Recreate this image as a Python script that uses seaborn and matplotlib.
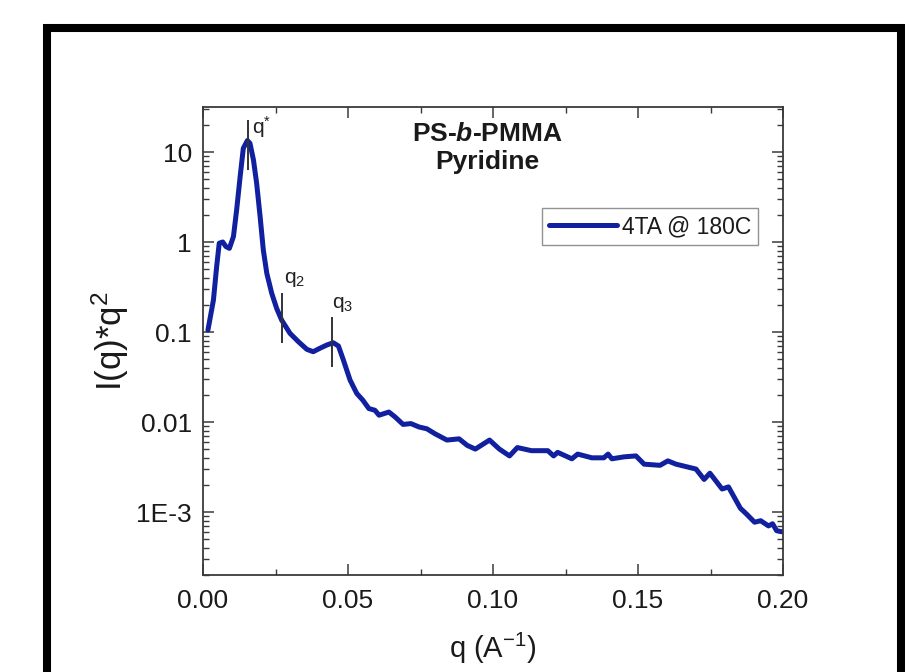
import matplotlib
matplotlib.use("Agg")
import matplotlib.pyplot as plt
import seaborn as sns
import numpy as np
import pandas as pd
from matplotlib.patches import Rectangle
from matplotlib.ticker import FixedLocator, FixedFormatter, LogLocator, MultipleLocator, NullFormatter

# ---------------- data ----------------
q_values = [0.0017, 0.0036, 0.0047, 0.0056, 0.0068, 0.0079, 0.0091, 0.0105, 0.0116, 0.0128,
            0.0139, 0.0153, 0.0162, 0.0174, 0.0185, 0.0197, 0.0208, 0.0220, 0.0237, 0.0254,
            0.0271, 0.0300, 0.0329, 0.0358, 0.0380, 0.0403, 0.0427, 0.0449, 0.0467, 0.0484,
            0.0507, 0.0530, 0.0551, 0.0572, 0.0593, 0.0607, 0.0641, 0.0662, 0.0690, 0.0717,
            0.0745, 0.0772, 0.0800, 0.0841, 0.0883, 0.0911, 0.0939, 0.0988, 0.1022, 0.1057,
            0.1084, 0.1133, 0.1189, 0.1209, 0.1223, 0.1272, 0.1292, 0.1341, 0.1382, 0.1397,
            0.1410, 0.1452, 0.1493, 0.1521, 0.1576, 0.1603, 0.1631, 0.1700, 0.1728, 0.1748,
            0.1790, 0.1812, 0.1853, 0.1874, 0.1902, 0.1923, 0.1950, 0.1964, 0.1978, 0.2000]
intensity = [0.105, 0.227, 0.53, 0.97, 1.0, 0.89, 0.85, 1.15, 2.27, 5.3,
             11.0, 13.4, 12.5, 8.15, 4.49, 1.91, 0.815, 0.449, 0.269, 0.183,
             0.136, 0.0966, 0.078, 0.0642, 0.0604, 0.0659, 0.0717, 0.076, 0.0699, 0.0489,
             0.0293, 0.0208, 0.0175, 0.0141, 0.0135, 0.0119, 0.0129, 0.0114, 0.0094, 0.0096,
             0.0088, 0.0084, 0.0074, 0.0063, 0.0065, 0.0055, 0.0050, 0.0063, 0.0050, 0.0042,
             0.0052, 0.0048, 0.0048, 0.0042, 0.0046, 0.0039, 0.0044, 0.0040, 0.0040, 0.0044,
             0.0039, 0.0041, 0.0042, 0.0034, 0.0033, 0.0037, 0.0034, 0.0030, 0.0023, 0.0027,
             0.0018, 0.0019, 0.0011, 0.00095, 0.00077, 0.0008, 0.0007, 0.00074, 0.00062, 0.00060]
series_label = "4TA @ 180C"

# peak markers: position, line span, label
peak_q = [0.0155, 0.0272, 0.0445]
peak_low = [6.3, 0.0755, 0.0408]
peak_high = [22.7, 0.271, 0.147]
peak_labels = [r"q$^{*}$", r"q$_{2}$", r"q$_{3}$"]
peak_label_q = [0.0170, 0.0281, 0.0445]
peak_label_y = [19.0, 0.38, 0.20]

x_ticks = [0.00, 0.05, 0.10, 0.15, 0.20]
x_ticklabels = ["0.00", "0.05", "0.10", "0.15", "0.20"]
y_ticks = [1e-3, 1e-2, 1e-1, 1, 10]
y_ticklabels = ["1E-3", "0.01", "0.1", "1", "10"]

title_text = "PS-$b$-PMMA\nPyridine"
x_label = r"q (A$^{-1}$)"
y_label = r"I(q)*q$^{2}$"

# ---------------- style ----------------
sns.set_theme(style="white")
plt.rcParams["font.family"] = ["Liberation Sans", "DejaVu Sans"]
plt.rcParams["mathtext.fontset"] = "custom"
plt.rcParams["mathtext.rm"] = "Liberation Sans"
plt.rcParams["mathtext.it"] = "Liberation Sans:italic:bold"
plt.rcParams["mathtext.bf"] = "Liberation Sans:bold"

line_color = "#10209e"
spine_color = "#3a3a3a"

fig = plt.figure(figsize=(9.05, 6.72), dpi=100)
fig.patch.set_facecolor("white")
ax = fig.add_axes([203 / 905, 1 - 575 / 672, 580 / 905, 468 / 672])

df = pd.DataFrame({"q": q_values, "I": intensity})
sns.lineplot(data=df, x="q", y="I", ax=ax, color=line_color, lw=3.6,
             estimator=None, sort=False, label=series_label, solid_joinstyle="round",
             solid_capstyle="round")

ax.set_yscale("log")
ax.set_xlim(0.0, 0.2)
ax.set_ylim(10 ** -3.7, 10 ** 1.5)

# peak markers
ax.vlines(peak_q, peak_low, peak_high, colors="#333333", lw=1.4)
for lq, ly, lt in zip(peak_label_q, peak_label_y, peak_labels):
    ax.text(lq, ly, lt, fontsize=15, color="#222222", ha="left", va="center")

# ticks
ax.xaxis.set_major_locator(FixedLocator(x_ticks))
ax.xaxis.set_major_formatter(FixedFormatter(x_ticklabels))
ax.xaxis.set_minor_locator(MultipleLocator(0.025))
ax.yaxis.set_major_locator(FixedLocator(y_ticks))
ax.yaxis.set_major_formatter(FixedFormatter(y_ticklabels))
ax.yaxis.set_minor_locator(LogLocator(base=10, subs=np.arange(2, 10), numticks=20))
ax.yaxis.set_minor_formatter(NullFormatter())

ax.tick_params(which="both", direction="in", top=True, right=True, bottom=True, left=True,
               colors=spine_color, labelcolor="#1a1a1a")
ax.tick_params(which="major", length=8, width=1.1, labelsize=19, pad=8)
ax.tick_params(which="minor", length=4.5, width=1.0)
ax.tick_params(axis="x", which="major", pad=10)

for s in ax.spines.values():
    s.set_visible(True)
    s.set_color(spine_color)
    s.set_linewidth(1.3)

ax.set_xlabel(x_label, fontsize=21, color="#1a1a1a", labelpad=13)
ax.set_ylabel(y_label, fontsize=25, color="#1a1a1a", labelpad=4)

ax.text(0.491, 0.968, title_text, transform=ax.transAxes, ha="center", va="top",
        fontsize=19, fontweight="bold", color="#1a1a1a", linespacing=1.2)

leg = ax.legend(loc="upper right", bbox_to_anchor=(0.957, 0.784), borderaxespad=0,
                fontsize=16.5, frameon=True, fancybox=False, handlelength=3.0,
                handletextpad=0.2, borderpad=0.3)
leg.get_frame().set_edgecolor("#777777")
leg.get_frame().set_linewidth(1.0)
leg.get_frame().set_facecolor("white")
for t in leg.get_texts():
    t.set_color("#1a1a1a")

# outer black frame
fig.patches.append(Rectangle((46.5 / 905, -0.05), (900.5 - 46.5) / 905, 1.05 - 28.5 / 672,
                             transform=fig.transFigure, fill=False, edgecolor="black",
                             linewidth=5.8, zorder=10))

fig.savefig("out.png", dpi=100, facecolor="white")
